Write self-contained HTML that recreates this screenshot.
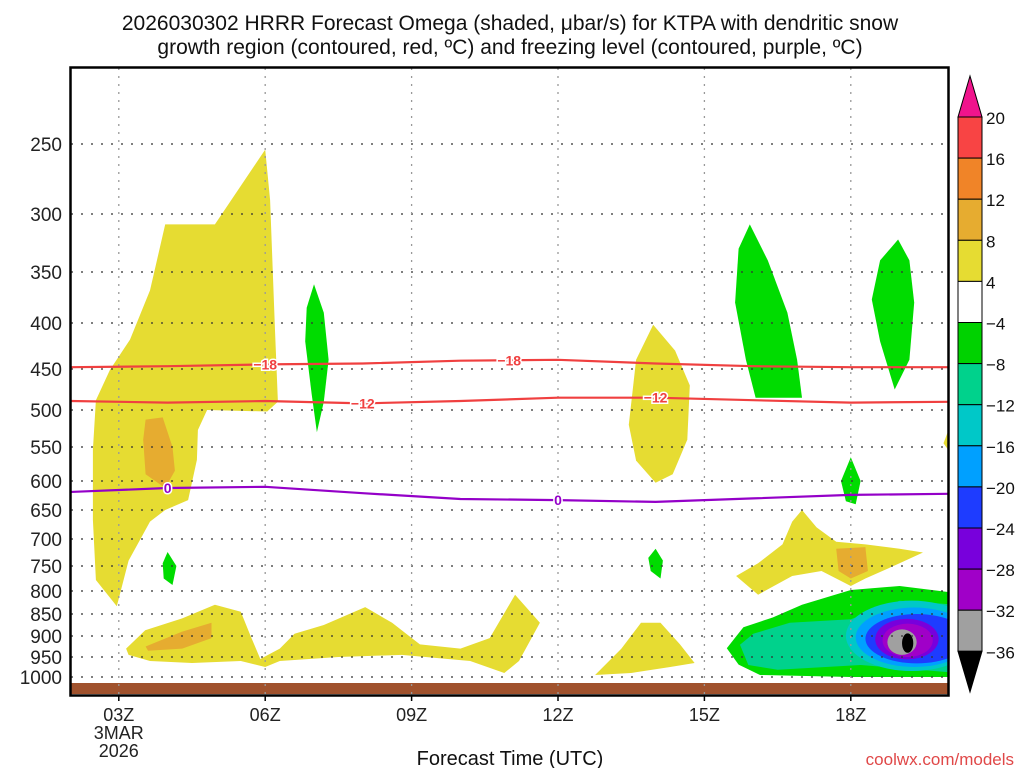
<!DOCTYPE html>
<html><head><meta charset="utf-8"><style>
body{margin:0;background:#fff;}
svg{display:block;font-family:"Liberation Sans",sans-serif;}
</style></head><body>
<svg id="chart" width="1024" height="768" viewBox="0 0 1024 768">
<text x="510" y="30" text-anchor="middle" font-size="21" fill="#111">2026030302 HRRR Forecast Omega (shaded, μbar/s) for KTPA with dendritic snow</text>
<text x="510" y="54" text-anchor="middle" font-size="21" fill="#111">growth region (contoured, red, ºC) and freezing level (contoured, purple, ºC)</text>
<defs><clipPath id="pc"><rect x="71" y="68" width="877" height="627"/></clipPath></defs>
<g id="plot" clip-path="url(#pc)"></g>
<g id="axes"></g>
<g id="cbar"></g>
<text x="510" y="765" text-anchor="middle" font-size="20" fill="#111">Forecast Time (UTC)</text>
<text x="1014" y="765" text-anchor="end" font-size="17" fill="#e04848">coolwx.com/models</text>
</svg>
<script>
const NS="http://www.w3.org/2000/svg";
const pLevels=[200,250,300,350,400,450,500,550,600,650,700,750,800,850,900,950,1000];
const pY=[67,144,214,272,323,369,410,447,481,510,539,566,591,614,636,657,677];
const xTickHours=[3,6,9,12,15,18];
const xTickLabels=["03Z","06Z","09Z","12Z","15Z","18Z"];
const cbLabels=["20","16","12","8","4","\u22124","\u22128","\u221212","\u221216","\u221220","\u221224","\u221228","\u221232","\u221236"];
const cbColors=["#f84444","#f08428","#e6ac30","#e6dc32","#ffffff","#00d200","#00d28c","#00c8c8","#00a0ff","#1e3cff","#7800dc","#a000c8","#a0a0a0"];
const contourHours=[2,4,6,8,10,12,14,16,18,20];
const iso18=[448,447,445,444,441,440,444,447,448,448];
const iso12=[489,491,489,492,489,485,485,488,491,490];
const iso0=[619,612,610,621,631,633,636,630,624,622];
const yellowMain=[[2.96,833],[2.53,778],[2.47,667],[2.47,554],[2.53,488],[2.82,451],[3.23,418],[3.64,368],[3.95,309],[4.97,309],[6.0,254],[6.1,290],[6.2,408],[6.26,490],[6.04,502],[4.81,500],[4.62,527],[4.6,569],[4.42,633],[3.95,650],[3.64,670],[3.2,740]];
const orangeMain=[[3.55,513],[3.9,510],[4.1,550],[4.15,585],[3.95,612],[3.55,590],[3.5,540]];
const greenA=[[7.0,362],[7.2,390],[7.3,440],[7.2,490],[7.06,530],[6.95,480],[6.82,420],[6.85,385]];
const greenB=[[4.0,724],[4.18,750],[4.1,788],[3.92,775],[3.9,745]];
const yellowBottom=[[3.15,930],[3.54,887],[4.3,860],[4.97,830],[5.5,845],[5.7,900],[5.9,955],[6.3,930],[6.6,895],[7.2,875],[8.05,835],[8.6,870],[9.17,920],[10.0,930],[10.6,905],[11.12,808],[11.63,870],[11.2,960],[10.9,990],[10.2,960],[8.8,945],[7.5,950],[6.3,960],[6.0,975],[5.5,960],[4.5,965],[3.64,960],[3.2,945]];
const orangeBottom=[[3.55,925],[4.3,890],[4.9,870],[4.9,905],[4.3,930],[3.6,935]];
const yellow14=[[13.95,402],[14.4,430],[14.7,470],[14.65,540],[14.35,590],[14.0,603],[13.6,570],[13.45,520],[13.6,440]];
const greenC=[[14.0,718],[14.15,740],[14.1,775],[13.9,760],[13.85,735]];
const yellow14b=[[12.76,995],[13.3,930],[13.7,870],[14.1,870],[14.5,920],[14.8,965],[14.3,975],[13.5,990]];
const greenD=[[15.93,309],[16.3,340],[16.7,390],[16.9,440],[17.0,485],[16.05,485],[15.85,440],[15.63,380],[15.7,330]];
const greenE=[[18.97,322],[19.2,340],[19.3,380],[19.2,440],[18.9,475],[18.6,420],[18.43,377],[18.6,340]];
const greenF=[[18.0,565],[18.2,600],[18.1,640],[17.9,635],[17.8,600]];
const yellowEdge=[[20.1,510],[19.9,545],[20.1,565]];
const yellowMid=[[17.0,650],[17.3,680],[17.7,705],[18.3,710],[19.0,718],[19.48,725],[19.0,745],[18.3,775],[18.0,790],[17.4,760],[16.8,770],[16.1,808],[15.65,770],[16.1,745],[16.6,710],[16.8,670]];
const orangeMid=[[17.7,718],[18.3,715],[18.35,760],[18.0,775],[17.75,760]];
const blobGreen=[[15.46,929],[15.8,880],[16.4,858],[17.0,830],[18.0,798],[19.0,790],[20.2,805],[20.2,1000],[18,1000],[16.14,995],[15.7,969]];
const blobTeal=[[15.73,921],[16.0,895],[16.75,870],[18.0,862],[19.0,821],[20.2,830],[20.2,990],[18.2,970],[16.5,982],[15.9,970]];
const ellH0=[17.9,18.1,18.3,18.5,18.65,18.75,19.05];
const ellH1=[20.6,20.5,20.4,19.8,19.68,19.35,19.28];
const ellP0=[821,836,850,861,872,885,894];
const ellP1=[985,975,966,956,950,945,940];
const ellC=["#00c8c8","#00a0ff","#1e3cff","#7800dc","#a000c8","#a0a0a0","#000000"];

const X0=70,PXH=48.8;
function xs(h){return X0+(h-2)*PXH;}
function ys(p){for(let i=0;i<pLevels.length-1;i++){if(p<=pLevels[i+1]||i==pLevels.length-2){const t=(p-pLevels[i])/(pLevels[i+1]-pLevels[i]);return pY[i]+t*(pY[i+1]-pY[i]);}}}
function el(tag,attrs,parent){const e=document.createElementNS(NS,tag);for(const k in attrs)e.setAttribute(k,attrs[k]);parent.appendChild(e);return e;}
const plot=document.getElementById('plot'),axes=document.getElementById('axes'),cbar=document.getElementById('cbar');
function poly(pts,fill,name){const e=el('polygon',{points:pts.map(q=>xs(q[0]).toFixed(1)+','+ys(q[1]).toFixed(1)).join(' '),fill:fill},plot);

}
const Y="#e6dc32",O="#e6ac30",G="#00dc00",T="#00d28c";
poly(yellowMain,Y,'omega-yellow-main');poly(orangeMain,O,'omega-orange-main');
poly(greenA,G,'omega-green-07z');poly(greenB,G,'omega-green-04z');
poly(yellowBottom,Y,'omega-yellow-low');poly(orangeBottom,O,'omega-orange-low');
poly(yellow14,Y,'omega-yellow-14z');poly(greenC,G,'omega-green-14z');poly(yellow14b,Y,'omega-yellow-14z-low');
poly(greenD,G,'omega-green-16z');poly(greenE,G,'omega-green-19z');poly(greenF,G,'omega-green-18z');
poly(yellowEdge,Y,'omega-yellow-edge');poly(yellowMid,Y,'omega-yellow-mid');poly(orangeMid,O,'omega-orange-mid');
poly(blobGreen,G,'omega-blob-green');poly(blobTeal,T,'omega-blob-teal');
for(let i=0;i<ellC.length;i++){const x0=xs(ellH0[i]),x1=xs(ellH1[i]),y0=ys(ellP0[i]),y1=ys(ellP1[i]);
const e=el('ellipse',{cx:(x0+x1)/2,cy:(y0+y1)/2,rx:(x1-x0)/2,ry:(y1-y0)/2,fill:ellC[i]},plot);

}
const g=el('rect',{x:71,y:ys(1000)+6,width:877,height:11,fill:"#a0522d"},plot);


for(let i=1;i<pLevels.length;i++){const y=pY[i];
const l=el('line',{x1:71,x2:948,y1:y,y2:y,stroke:"#333","stroke-dasharray":"2 8","stroke-width":1.3},plot);


const t=el('text',{x:62,y:y+7,"text-anchor":"end","font-size":19,fill:"#222"},axes);t.textContent=pLevels[i];

}
xTickHours.forEach((h,i)=>{const x=xs(h);
const l=el('line',{x1:x,x2:x,y1:68,y2:695,stroke:"#999","stroke-dasharray":"2 6","stroke-width":1.3},plot);


el('line',{x1:x,x2:x,y1:695,y2:701,stroke:"#000","stroke-width":1.5},axes);
const t=el('text',{x:x,y:721,"text-anchor":"middle","font-size":18,fill:"#222"},axes);t.textContent=xTickLabels[i];

});
[["3MAR",739],["2026",757]].forEach(a=>{const t=el('text',{x:xs(3),y:a[1],"text-anchor":"middle","font-size":18,fill:"#222"},axes);t.textContent=a[0];

});
function line(vals,col,name,labels,txt){const d=contourHours.map((h,i)=>(i?'L':'M')+xs(h).toFixed(1)+','+ys(vals[i]).toFixed(1)).join('');
const e=el('path',{d:d,fill:"none",stroke:col,"stroke-width":2.2},plot);


labels.forEach(h=>{let i=contourHours.findIndex(c=>c>=h);const t0=(h-contourHours[i-1])/2;const p=vals[i-1]+t0*(vals[i]-vals[i-1]);
const t=el('text',{x:xs(h),y:ys(p)+5,"text-anchor":"middle","font-size":14,"font-weight":"bold",fill:col,stroke:"#fff","stroke-width":3,"paint-order":"stroke"},plot);t.textContent=txt;

});}
line(iso18,"#f04040","isotherm-minus18",[6,11],"\u221218");
line(iso12,"#f04040","isotherm-minus12",[8,14],"\u221212");
line(iso0,"#9400c8","freezing-level",[4,12],"0");
const f=el('rect',{x:70.5,y:67.5,width:878,height:628,fill:"none",stroke:"#000","stroke-width":2.5},axes);


const cx0=958,cw=24,cy0=117,ch=41.1;
const up=el('polygon',{points:`${cx0},${cy0} ${cx0+cw},${cy0} ${cx0+cw/2},76`,fill:"#f0148c",stroke:"#000","stroke-width":1},cbar);


cbColors.forEach((c,i)=>{const r=el('rect',{x:cx0,y:cy0+i*ch,width:cw,height:ch,fill:c,stroke:"#000","stroke-width":1},cbar);

});
const yb=cy0+cbColors.length*ch;
const dn=el('polygon',{points:`${cx0},${yb} ${cx0+cw},${yb} ${cx0+cw/2},692`,fill:"#000",stroke:"#000","stroke-width":1},cbar);


cbLabels.forEach((s,i)=>{const t=el('text',{x:986,y:cy0+i*ch+7,"font-size":17,fill:"#111"},cbar);t.textContent=s;

});
</script>
</body></html>
